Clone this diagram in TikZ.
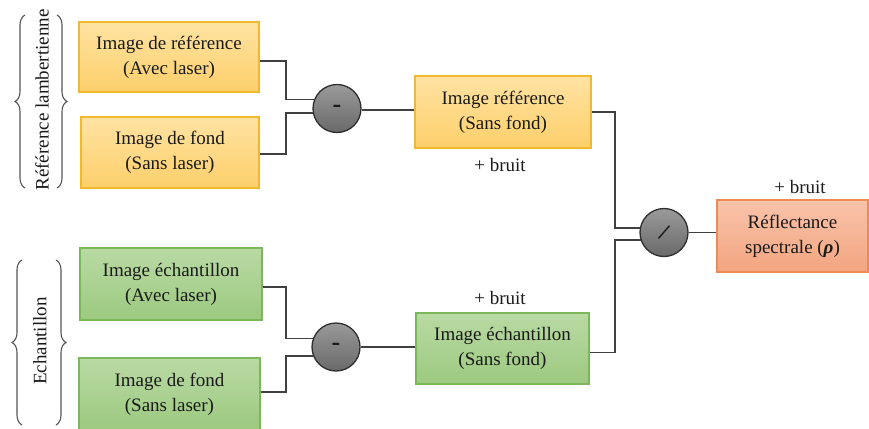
\documentclass[tikz,border=0pt]{standalone}
\usepackage{fontspec}
\setmainfont{Liberation Serif}
\usetikzlibrary{decorations.pathreplacing,calc}
\definecolor{orangeEdge}{HTML}{F2B92E}
\definecolor{orangeTop}{HTML}{FFE3A3}
\definecolor{orangeBot}{HTML}{FDCF6A}
\definecolor{greenEdge}{HTML}{7DB75B}
\definecolor{greenTop}{HTML}{B9DAA4}
\definecolor{greenBot}{HTML}{9CC97F}
\definecolor{salmonEdge}{HTML}{EE8A58}
\definecolor{salmonTop}{HTML}{F8C3AA}
\definecolor{salmonBot}{HTML}{F3A580}
\definecolor{opEdge}{HTML}{2E2E2E}
\definecolor{opTop}{HTML}{999999}
\definecolor{opBot}{HTML}{6A6A6A}
\definecolor{wireCol}{HTML}{404040}
\definecolor{braceCol}{HTML}{555555}
\definecolor{txtCol}{HTML}{1A1A1A}
\begin{document}
\begin{tikzpicture}[x=1pt,y=-1pt,
  txt/.style={font=\fontsize{19}{25}\selectfont, text=txtCol},
  box/.style={txt, draw, line width=1.1pt, align=center, inner sep=0pt},
  orangebox/.style={box, draw=orangeEdge, top color=orangeTop, bottom color=orangeBot},
  greenbox/.style={box, draw=greenEdge, top color=greenTop, bottom color=greenBot},
  salmonbox/.style={box, draw=salmonEdge, top color=salmonTop, bottom color=salmonBot},
  op/.style={circle, draw=opEdge, line width=1.3pt, top color=opTop, bottom color=opBot, minimum size=48pt, inner sep=0pt, font=\fontsize{26}{26}\selectfont\bfseries, text=txtCol},
  wire/.style={draw=wireCol, line width=1.5pt},
  brc/.style={draw=braceCol, line width=1.1pt, decorate, decoration={brace, amplitude=10pt}},
  lbl/.style={txt}
]
\useasboundingbox (0,0) rectangle (869,428);

% boxes
\node[orangebox, minimum width=180pt, minimum height=70pt] (A) at (169,57) {Image de référence\\(Avec laser)};
\node[orangebox, minimum width=178pt, minimum height=71pt] (B) at (170,152.5) {Image de fond\\(Sans laser)};
\node[orangebox, minimum width=176pt, minimum height=72pt] (C) at (503,112) {Image référence\\(Sans fond)};
\node[greenbox, minimum width=182pt, minimum height=72pt] (F) at (171,284) {Image échantillon\\(Avec laser)};
\node[greenbox, minimum width=181pt, minimum height=72pt] (G) at (169.5,394) {Image de fond\\(Sans laser)};
\node[greenbox, minimum width=173pt, minimum height=71pt] (D) at (502.5,348.5) {Image échantillon\\(Sans fond)};
\node[salmonbox, minimum width=151pt, minimum height=72pt] (E) at (792.5,236) {Réflectance\\spectrale (\textbf{\textit{ρ}})};

% operators
\node[op] (c1) at (337,108.5) {-};
\node[op] (c3) at (336,347) {-};
\node[op] (c2) at (664,232.5) {};
\node[font=\fontsize{24}{24}\selectfont\bfseries, text=txtCol, rotate=-22, inner sep=0pt] (slash) at (c2) {/};

% noise labels
\node[lbl] (n1) at (500,165) {+ bruit};
\node[lbl] (n2) at (500,298) {+ bruit};
\node[lbl] (n3) at (800,187) {+ bruit};

% junction columns
\coordinate (jL) at (286,0);
\coordinate (jR) at (615,0);

% wires
\draw[wire] ([yshift=-4pt]A.east) -| (jL |- c1.159) -- (c1.159);
\draw[wire] ([yshift=-1.5pt]B.east) -| (jL |- c1.191) -- (c1.191);
\draw[wire] ([yshift=-3pt]F.east) -| (jL |- c3.160) -- (c3.160);
\draw[wire] ([yshift=2pt]G.east) -| (jL |- c3.202) -- (c3.202);
\draw[wire] ([yshift=-1.5pt]c1.east) -- ([yshift=-1.5pt]c1.east -| C.west);
\draw[wire] (c3.east) -- (c3.east -| D.west);
\draw[wire] (C.east) -| (jR |- c2.169) -- (c2.169);
\draw[wire] ([yshift=-4pt]D.east) -| (jR |- c2.198) -- (c2.198);
\draw[wire] (c2.east) -- (c2.east -| E.west);

% braces
\coordinate (b1a) at (25,188); \coordinate (b1b) at (25,15);
\coordinate (b2a) at (57,188); \coordinate (b2b) at (57,15);
\coordinate (b3a) at (22,425); \coordinate (b3b) at (22,260);
\coordinate (b4a) at (56,425); \coordinate (b4b) at (56,260);
\draw[brc] (b1a) -- (b1b);
\draw[brc, decoration={brace, amplitude=10pt, mirror}] (b2a) -- (b2b);
\draw[brc] (b3a) -- (b3b);
\draw[brc, decoration={brace, amplitude=10pt, mirror}] (b4a) -- (b4b);

\node[txt, rotate=90] (t1) at (42,100) {Référence lambertienne};
\node[txt, rotate=90] (t2) at (40,341) {Echantillon};
\end{tikzpicture}
\end{document}
